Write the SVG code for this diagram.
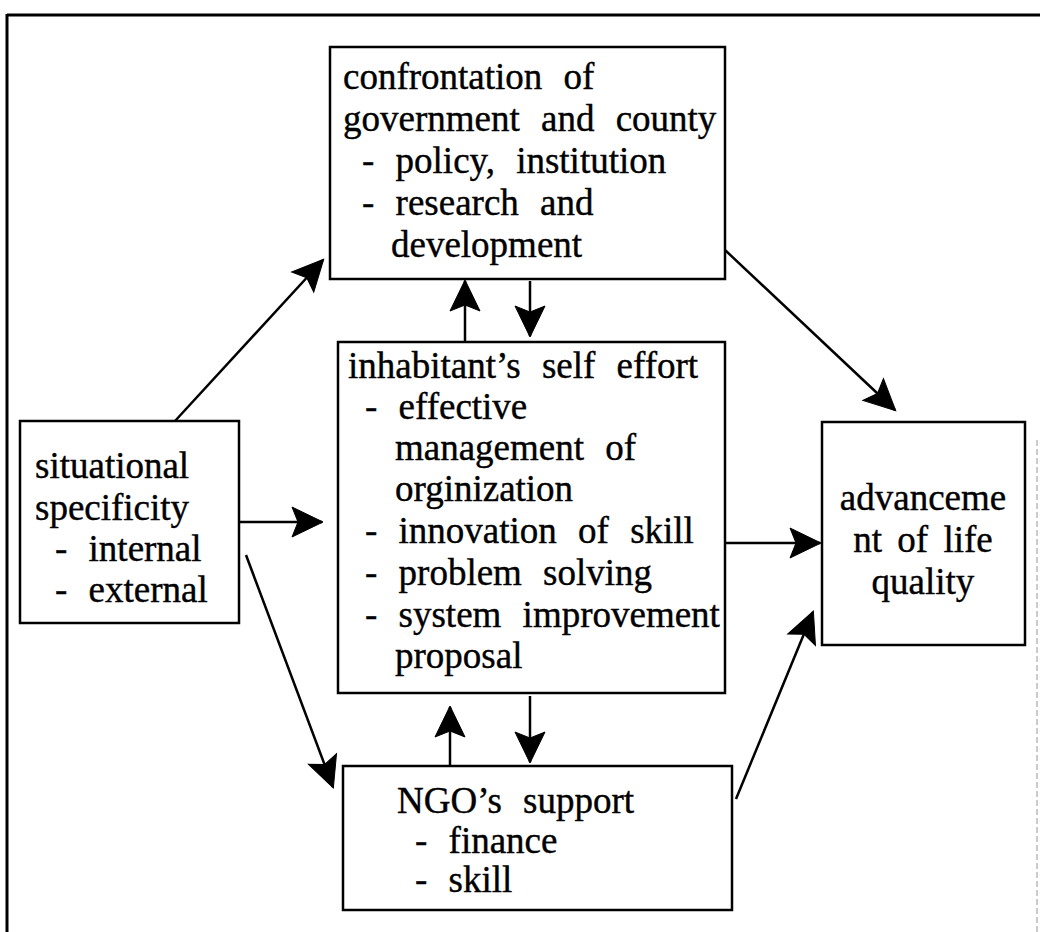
<svg xmlns="http://www.w3.org/2000/svg" width="1040" height="932" viewBox="0 0 1040 932">
<style>
.box{fill:#fff;stroke:#000;stroke-width:2.5}
.t{font-family:"Liberation Serif","Times New Roman",serif;font-size:37px;word-spacing:12px;fill:#000;stroke:#000;stroke-width:0.4}
.c{text-anchor:middle;word-spacing:6px}
.ln{stroke:#000;stroke-width:2.5;fill:none;marker-end:url(#ah)}
</style>
<defs>
<marker id="ah" markerUnits="userSpaceOnUse" viewBox="-34 -18 36 36" refX="0" refY="0" markerWidth="36" markerHeight="36" orient="auto" overflow="visible">
<path d="M1,0 L-30,-15 L-24,0 L-30,15 Z" fill="#000" stroke="#000" stroke-width="1"/>
</marker>
</defs>
<rect width="1040" height="932" fill="#fff"/>
<g id="frame">
<line x1="7" y1="15" x2="1040" y2="15" stroke="#000" stroke-width="3"/>
<line x1="7" y1="14" x2="7" y2="932" stroke="#000" stroke-width="3"/>
<line x1="1037" y1="440" x2="1037" y2="932" stroke="#bbb" stroke-width="1.5" stroke-dasharray="6 3"/>
</g>
<g id="connectors">
<line class="ln" x1="175" y1="421" x2="323" y2="260"/>
<line class="ln" x1="725" y1="250" x2="895" y2="410"/>
<line class="ln" x1="465" y1="342" x2="465" y2="281"/>
<line class="ln" x1="530" y1="281" x2="530" y2="336"/>
<line class="ln" x1="239" y1="522" x2="322" y2="522"/>
<line class="ln" x1="725" y1="543" x2="820" y2="543"/>
<line class="ln" x1="246" y1="555" x2="333" y2="787"/>
<line class="ln" x1="450" y1="766" x2="450" y2="707"/>
<line class="ln" x1="530" y1="696" x2="530" y2="762"/>
<line class="ln" x1="736" y1="799" x2="813" y2="612"/>
</g>
<g id="confrontation">
<rect class="box" x="330" y="47" width="395" height="232"/>
<text class="t" x="343" y="89">confrontation of</text>
<text class="t" x="343" y="131">government and county</text>
<text class="t" x="362" y="173">- policy, institution</text>
<text class="t" x="362" y="215">- research and</text>
<text class="t" x="391" y="257">development</text>
</g>
<g id="situational">
<rect class="box" x="20" y="421" width="219" height="202"/>
<text class="t" x="35" y="478">situational</text>
<text class="t" x="35" y="520">specificity</text>
<text class="t" x="55" y="561">- internal</text>
<text class="t" x="55" y="602">- external</text>
</g>
<g id="inhabitant">
<rect class="box" x="338" y="342" width="387" height="351"/>
<text class="t" x="348" y="378">inhabitant’s self effort</text>
<text class="t" x="365" y="419">- effective</text>
<text class="t" x="395" y="460">management of</text>
<text class="t" x="395" y="501">orginization</text>
<text class="t" x="365" y="543">- innovation of skill</text>
<text class="t" x="365" y="585">- problem solving</text>
<text class="t" x="365" y="627">- system improvement</text>
<text class="t" x="395" y="668">proposal</text>
</g>
<g id="advancement">
<rect class="box" x="822" y="422" width="203" height="223"/>
<text class="t c" x="923" y="510">advanceme</text>
<text class="t c" x="923" y="552">nt of life</text>
<text class="t c" x="923" y="594">quality</text>
</g>
<g id="ngo">
<rect class="box" x="343" y="766" width="389" height="144"/>
<text class="t" x="397" y="813">NGO’s support</text>
<text class="t" x="415" y="853">- finance</text>
<text class="t" x="415" y="892">- skill</text>
</g>
</svg>
